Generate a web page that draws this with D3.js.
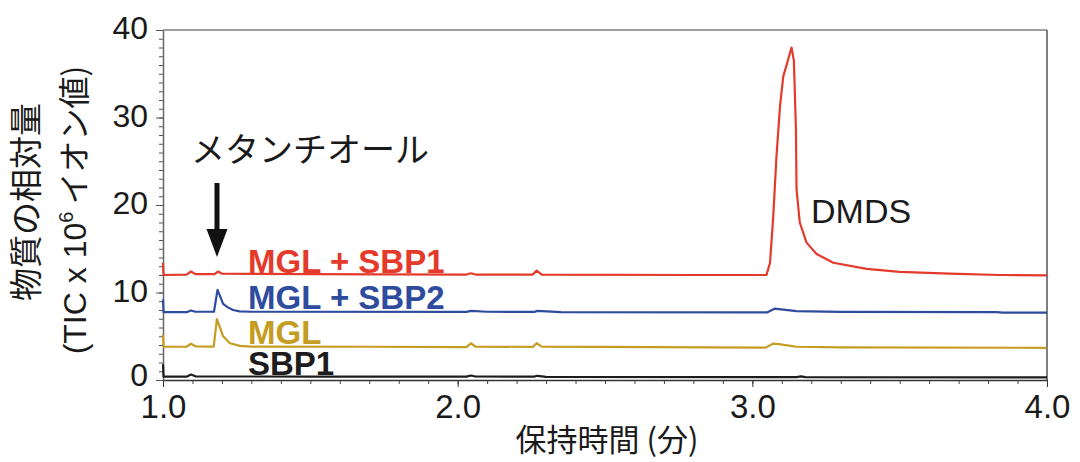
<!DOCTYPE html>
<html>
<head>
<meta charset="utf-8">
<script src="https://cdn.jsdelivr.net/npm/d3@7"></script>
<style>
  body { margin: 0; background: #fff; }
  svg { display: block; }
  .tick text { font-family: 'Liberation Sans', Arial, sans-serif; }
</style>
</head>
<body>
<svg id="chart" width="1080" height="462"></svg>
<script>
// retention time (min) / TIC (x10^6) pairs
const mglSbp1 = [
  [1.0, 13.4], [1.002, 12.0], [1.08, 12.05], [1.095, 12.4], [1.11, 12.1], [1.175, 12.1],
  [1.187, 12.4], [1.2, 12.15], [1.5, 12.1], [2.03, 12.05], [2.045, 12.2], [2.06, 12.05],
  [2.255, 12.05], [2.268, 12.5], [2.285, 12.05], [2.8, 12.0], [3.048, 12.0], [3.06, 13.4],
  [3.071, 18.7], [3.082, 25.6], [3.094, 31.3], [3.105, 34.7], [3.118, 36.2], [3.133, 38.0],
  [3.141, 36.5], [3.145, 32.0], [3.148, 28.6], [3.15, 21.8], [3.161, 18.0], [3.184, 15.7],
  [3.218, 14.4], [3.275, 13.4], [3.388, 12.7], [3.5, 12.35], [3.67, 12.15], [3.84, 12.0], [4.0, 11.95]
];
const mglSbp2 = [
  [1.0, 9.2], [1.002, 7.75], [1.08, 7.75], [1.095, 7.95], [1.11, 7.8], [1.173, 7.8],
  [1.185, 10.3], [1.19, 9.9], [1.204, 8.7], [1.22, 8.3], [1.238, 8.0], [1.26, 7.85],
  [1.3, 7.8], [2.03, 7.78], [2.045, 7.9], [2.1, 7.8], [2.26, 7.78], [2.27, 7.9],
  [2.35, 7.75], [3.05, 7.72], [3.075, 8.15], [3.09, 8.1], [3.15, 7.88], [3.3, 7.78],
  [3.83, 7.75], [3.85, 7.7], [4.0, 7.7]
];
const mgl = [
  [1.0, 5.2], [1.002, 3.8], [1.08, 3.8], [1.095, 4.15], [1.11, 3.85], [1.172, 3.82],
  [1.183, 6.95], [1.19, 6.3], [1.204, 5.0], [1.227, 4.2], [1.261, 3.9], [1.3, 3.82],
  [1.7, 3.8], [2.03, 3.75], [2.045, 4.2], [2.06, 3.82], [2.255, 3.78], [2.268, 4.2],
  [2.285, 3.82], [3.045, 3.7], [3.07, 4.15], [3.09, 4.1], [3.15, 3.8], [3.3, 3.72], [4.0, 3.68]
];
const sbp1 = [
  [1.0, 1.8], [1.002, 0.38], [1.08, 0.38], [1.095, 0.62], [1.11, 0.42], [1.5, 0.38],
  [2.03, 0.38], [2.045, 0.52], [2.06, 0.4], [2.26, 0.38], [2.27, 0.48], [2.3, 0.36],
  [3.15, 0.33], [3.165, 0.42], [3.18, 0.32], [4.0, 0.3]
];

const seriesNames = ['MGL + SBP1', 'MGL + SBP2', 'MGL', 'SBP1'];
const seriesColors = ['#e43a2b', '#2e4b9e', '#c59d22', '#1c1c1c'];
const xTicks = [1, 2, 3, 4];
const yTicks = [0, 10, 20, 30, 40];

const svg = d3.select('#chart');
const x = d3.scaleLinear().domain([1, 4]).range([163, 1047]);
const y = d3.scaleLinear().domain([0, 40]).range([380, 30]);

// frame (top / right)
svg.append('line').attr('x1', x(1)).attr('x2', x(4)).attr('y1', y(40)).attr('y2', y(40))
  .attr('stroke', '#808080').attr('stroke-width', 1.5);
svg.append('line').attr('x1', x(4)).attr('x2', x(4)).attr('y1', y(40)).attr('y2', y(0))
  .attr('stroke', '#555').attr('stroke-width', 1.5);

// minor ticks
svg.append('g').attr('transform', `translate(0,${y(0)})`)
  .call(d3.axisBottom(x).tickValues(d3.range(10, 41).map(d => d / 10)).tickSize(4).tickFormat(''))
  .call(g => g.select('.domain').remove())
  .call(g => g.selectAll('line').attr('stroke', '#444'));
svg.append('g').attr('transform', `translate(${x(1)},0)`)
  .call(d3.axisLeft(y).tickValues(d3.range(0, 41)).tickSize(4).tickFormat(''))
  .call(g => g.select('.domain').remove())
  .call(g => g.selectAll('line').attr('stroke', '#555'));

// major axes
const xAxis = svg.append('g').attr('transform', `translate(0,${y(0)})`)
  .call(d3.axisBottom(x).tickValues(xTicks).tickSize(7).tickPadding(8).tickSizeOuter(0)
    .tickFormat(d3.format('.1f')));
xAxis.select('.domain').attr('stroke', '#333').attr('stroke-width', 1.5);
xAxis.selectAll('.tick line').attr('stroke', '#333');
xAxis.selectAll('.tick text').attr('font-size', 33).attr('fill', '#1a1a1a');

const yAxis = svg.append('g').attr('transform', `translate(${x(1)},0)`)
  .call(d3.axisLeft(y).tickValues(yTicks).tickSize(7).tickPadding(8).tickSizeOuter(0));
yAxis.select('.domain').attr('stroke', '#666').attr('stroke-width', 1.5);
yAxis.selectAll('.tick line').attr('stroke', '#555');
yAxis.selectAll('.tick text').attr('font-size', 32).attr('fill', '#1a1a1a')
  .attr('dy', d => (d === 0 ? '0.16em' : '0.28em'));

// traces
const line = d3.line().x(d => x(d[0])).y(d => y(d[1]));
[mglSbp1, mglSbp2, mgl, sbp1].forEach((s, i) => {
  svg.append('path').datum(s)
    .attr('d', line)
    .attr('fill', 'none')
    .attr('stroke', seriesColors[i])
    .attr('stroke-width', 2.2)
    .attr('stroke-linejoin', 'round');
});

// series labels
const labelBase = [273, 309, 344, 375];
seriesNames.forEach((n, i) => {
  svg.append('text')
    .attr('x', 248).attr('y', labelBase[i])
    .attr('font-family', "'Liberation Sans', Arial, sans-serif")
    .attr('font-weight', 'bold').attr('font-size', 33)
    .attr('fill', seriesColors[i])
    .text(n);
});

// annotations
svg.append('text')
  .attr('x', 191).attr('y', 162)
  .attr('font-family', "'Noto Sans CJK JP', sans-serif").attr('font-size', 34)
  .attr('fill', '#1a1a1a')
  .text('メタンチオール');

svg.append('rect').attr('x', 214.5).attr('y', 183).attr('width', 5).attr('height', 50).attr('fill', '#111');
svg.append('path').attr('d', 'M206.5,229 L227.5,229 L217,257 Z').attr('fill', '#111');

svg.append('text')
  .attr('x', 811).attr('y', 223)
  .attr('font-family', "'Liberation Sans', Arial, sans-serif").attr('font-size', 34)
  .attr('fill', '#1a1a1a')
  .text('DMDS');

// axis titles
svg.append('text')
  .attr('x', 607).attr('y', 451)
  .attr('text-anchor', 'middle')
  .attr('font-family', "'Noto Sans CJK JP', sans-serif").attr('font-size', 31)
  .attr('fill', '#1a1a1a')
  .text('保持時間 (分)');

const yTitle = svg.append('g');
yTitle.append('text')
  .attr('transform', 'translate(38,202) rotate(-90)')
  .attr('text-anchor', 'middle')
  .attr('font-family', "'Noto Sans CJK JP', sans-serif").attr('font-size', 33)
  .attr('fill', '#1a1a1a')
  .text('物質の相対量');
const t2 = yTitle.append('text')
  .attr('transform', 'translate(86,210) rotate(-90)')
  .attr('text-anchor', 'middle')
  .attr('font-family', "'Liberation Sans', 'Noto Sans CJK JP', sans-serif").attr('font-size', 32)
  .attr('fill', '#1a1a1a');
t2.append('tspan').text('(TIC x 10');
t2.append('tspan').attr('font-size', 20).attr('dy', -13).text('6');
t2.append('tspan').attr('dy', 13).attr('font-family', "'Noto Sans CJK JP', sans-serif").text(' イオン値)');
</script>
</body>
</html>
